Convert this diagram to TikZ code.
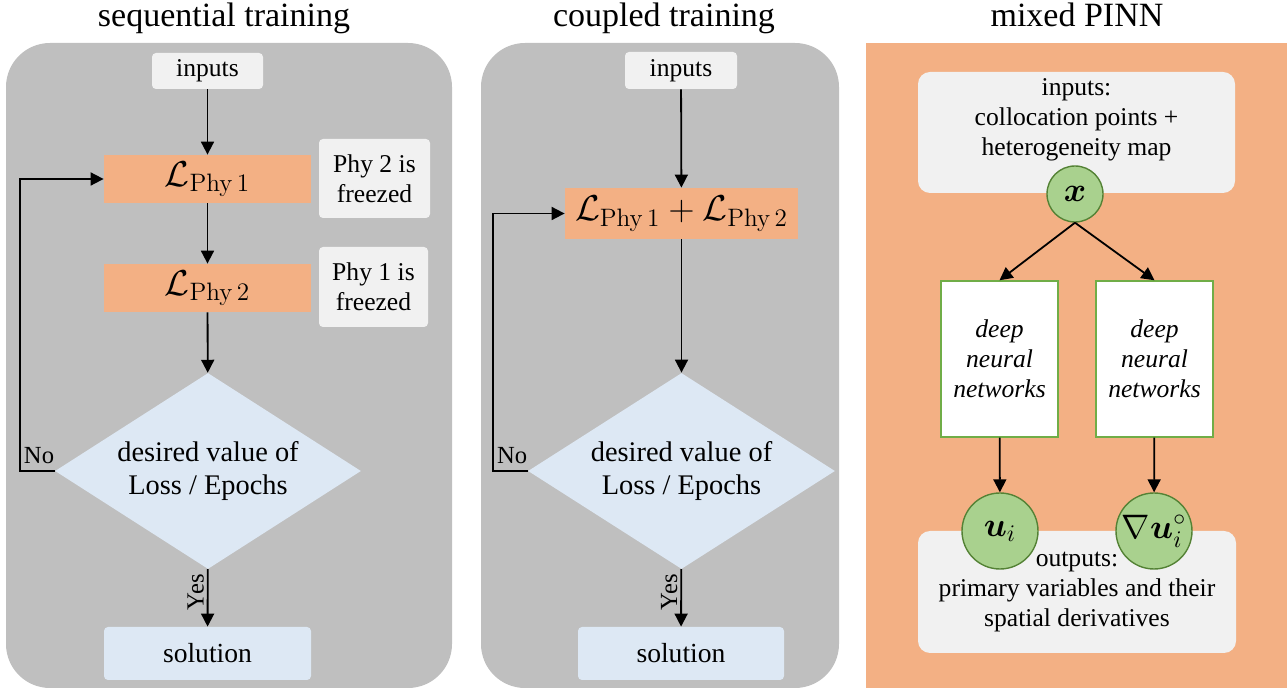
\RequirePackage{fix-cm}
\documentclass[tikz,border=0pt]{standalone}
\usepackage{amsmath}
\usepackage[no-math]{fontspec}
\setmainfont{Liberation Serif}
\usetikzlibrary{shapes.geometric,arrows.meta}

\definecolor{panelgray}{HTML}{BFBFBF}
\definecolor{lightgray}{HTML}{F1F1F1}
\definecolor{lossorange}{HTML}{F3B084}
\definecolor{paleblue}{HTML}{DDE8F4}
\definecolor{nodegreen}{HTML}{A9D18E}
\definecolor{edgegreen}{HTML}{548235}
\definecolor{boxgreen}{HTML}{70AD47}

\newcommand\titlefont{\fontsize{17}{20}\selectfont}
\newcommand\bodyfont{\fontsize{12.8}{15}\selectfont}
\newcommand\decfont{\fontsize{14.2}{16.5}\selectfont}
\newcommand\solfont{\fontsize{13.8}{16}\selectfont}
\newcommand\lossfont{\fontsize{18}{20}\selectfont}
\newcommand\circfont{\fontsize{17}{20}\selectfont}
\newcommand\labfont{\fontsize{12.3}{14}\selectfont}

\begin{document}
\begin{tikzpicture}[x=0.5pt,y=-0.5pt,
  paneltitle/.style={font=\titlefont, anchor=base, inner sep=0pt},
  lightbox/.style={fill=lightgray, rounded corners=2pt, inner sep=0pt, align=center, font=\bodyfont},
  bigbox/.style={fill=lightgray, rounded corners=6pt, inner sep=0pt, align=center, font=\bodyfont},
  lossbox/.style={fill=lossorange, inner sep=0pt, font=\lossfont},
  decision/.style={diamond, aspect=1.56, fill=paleblue, inner sep=0pt, align=center, font=\decfont},
  solbox/.style={fill=paleblue, rounded corners=2pt, inner sep=0pt, font=\solfont},
  netbox/.style={fill=white, draw=boxgreen, line width=0.7pt, inner sep=0pt, align=center, font=\bodyfont\itshape},
  varnode/.style={circle, fill=nodegreen, draw=edgegreen, line width=0.7pt, inner sep=0pt, font=\circfont},
  flow/.style={-{Triangle[length=6.5pt,width=6.5pt]}, line width=0.9pt},
  nolab/.style={pos=0.45, anchor=south, inner sep=3pt, font=\labfont},
  yeslab/.style={pos=0.4, anchor=south, rotate=90, inner sep=1.5pt, font=\labfont}]
\useasboundingbox (0,0) rectangle (1287,689);

% panel backgrounds
\fill[panelgray, rounded corners=22pt] (6,43) rectangle (452,688);
\fill[panelgray, rounded corners=22pt] (481,43) rectangle (839,688);
\fill[lossorange] (866,43) rectangle (1287,688);

% panel titles
\node[paneltitle] (t1) at (224,27) {sequential training};
\node[paneltitle] (t2) at (664,27) {coupled training};
\node[paneltitle] (t3) at (1077,27) {mixed PINN};

% ---- sequential training ----
\node[lightbox, minimum width=55.5pt, minimum height=18pt] (in1) at (207.5,71) {inputs};
\node[lossbox, minimum width=103.5pt, minimum height=24pt] (l1) at (207.5,179) {$\mathcal{L}_{\mathrm{Phy}\,1}$};
\node[lightbox, minimum width=55.5pt, minimum height=39.5pt] (f1) at (374.5,178.5) {Phy 2 is\\freezed};
\node[lossbox, minimum width=103.5pt, minimum height=24pt] (l2) at (207.5,288) {$\mathcal{L}_{\mathrm{Phy}\,2}$};
\node[lightbox, minimum width=54.5pt, minimum height=40pt] (f2) at (373.5,287) {Phy 1 is\\freezed};
\node[decision, minimum width=153pt, minimum height=98pt] (d1) at (208,471) {desired value of\\Loss / Epochs};
\node[solbox, minimum width=103.5pt, minimum height=26.5pt] (s1) at (207.5,653.5) {solution};
\coordinate (c1) at (20,471);

\draw[flow] (in1) -- (l1);
\draw[flow] (l1) -- (l2);
\draw[flow] (l2) -- (d1);
\draw[flow] (d1) -- node[yeslab] {Yes} (s1);
\draw[flow] (d1.west) -- node[nolab] {No} (c1) |- (l1.west);

% ---- coupled training ----
\node[lightbox, minimum width=56pt, minimum height=18.5pt] (in2) at (681,70.5) {inputs};
\node[lossbox, minimum width=116.5pt, minimum height=25.5pt] (l12) at (681.5,213.5) {$\mathcal{L}_{\mathrm{Phy}\,1}+\mathcal{L}_{\mathrm{Phy}\,2}$};
\node[decision, minimum width=153.5pt, minimum height=98pt] (d2) at (681.5,471) {desired value of\\Loss / Epochs};
\node[solbox, minimum width=103pt, minimum height=26.5pt] (s2) at (681,653.5) {solution};
\coordinate (c2) at (493,471);

\draw[flow] (in2) -- (l12);
\draw[flow] (l12) -- (d2);
\draw[flow] (d2) -- node[yeslab] {Yes} (s2);
\draw[flow] (d2.west) -- node[nolab] {No} (c2) |- (l12.west);

% ---- mixed PINN ----
\node[bigbox, minimum width=158.5pt, minimum height=60.5pt] (in3) at (1076.5,132.5) {};
\node[font=\bodyfont, align=center, inner sep=0pt] (in3t) at (1076.5,120) {inputs:\\collocation points +\\heterogeneity map};
\node[varnode, minimum size=28pt] (xc) at (1075,194) {$\boldsymbol{x}$};
\node[netbox, minimum width=58.5pt, minimum height=78pt] (n1) at (999.5,359) {deep\\neural\\networks};
\node[netbox, minimum width=58.5pt, minimum height=78pt] (n2) at (1154.5,359) {deep\\neural\\networks};
\node[bigbox, minimum width=159pt, minimum height=61pt] (out3) at (1077,592) {outputs:\\primary variables and their\\spatial derivatives};
\node[varnode, minimum size=38pt] (ui) at (1000,531) {$\boldsymbol{u}_i$};
\node[varnode, minimum size=38pt] (gu) at (1154,531) {$\nabla\boldsymbol{u}_i^{\circ}$};

\draw[flow] (xc.south) -- (n1.north);
\draw[flow] (xc.south) -- (n2.north);
\draw[flow] (n1) -- (ui);
\draw[flow] (n2) -- (gu);
\end{tikzpicture}
\end{document}
